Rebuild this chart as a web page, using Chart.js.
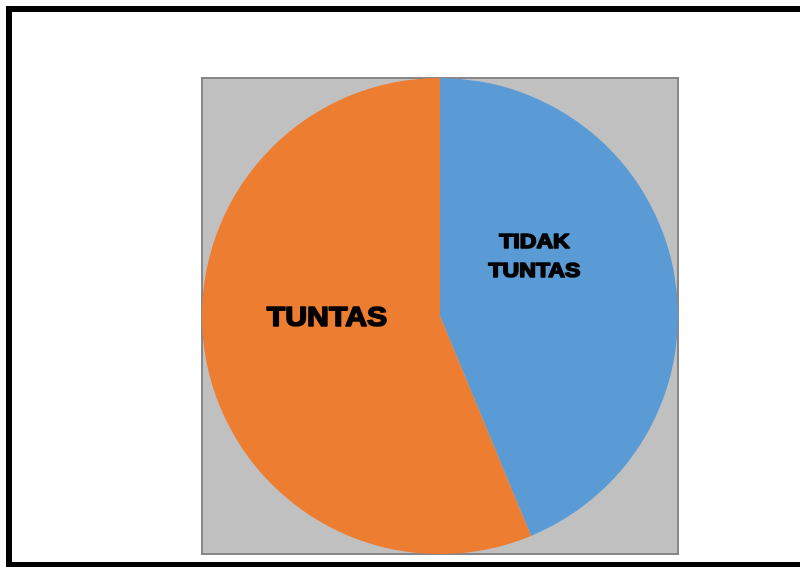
<!DOCTYPE html>
<html>
<head>
<meta charset="utf-8">
<script src="https://cdn.jsdelivr.net/npm/chart.js@4"></script>
<style>
  html, body { margin: 0; padding: 0; background: #ffffff; width: 800px; height: 567px; overflow: hidden; }
  #frame { position: absolute; left: 6px; top: 6px; width: 900px; height: 550px; border: 6px solid #000; box-sizing: content-box; }
  #plotbox { position: absolute; left: 201px; top: 77px; width: 474px; height: 474px; border: 2px solid #878787; background: #c0c0c0; }
  #wrap { position: absolute; left: 202px; top: 78px; width: 476px; height: 476px; }
</style>
</head>
<body>
<div id="frame"></div>
<div id="plotbox"></div>
<div id="wrap"><canvas id="c" width="476" height="476"></canvas></div>
<script>
const categories = ["TIDAK TUNTAS", "TUNTAS"];
const labelLines = [["TIDAK", "TUNTAS"], ["TUNTAS"]];
const values = [7, 9];
const sliceColors = ["#5b9bd5", "#ed7d31"];

// label placement: polar offset from pie centre (radius fraction, angle in degrees), font size, horizontal stretch
const labelPlacement = [
  { rFrac: 0.468, angle: -32, size: 21, lineGap: 29, stretch: 1.1 },
  { rFrac: 0.475, angle: 178.5, size: 27, lineGap: 30, stretch: 1.12 }
];

const sliceLabels = {
  id: "sliceLabels",
  afterDatasetsDraw(chart) {
    const ctx = chart.ctx;
    const meta = chart.getDatasetMeta(0);
    meta.data.forEach((arc, i) => {
      const p = labelPlacement[i];
      const a = p.angle * Math.PI / 180;
      const cx = arc.x + Math.cos(a) * arc.outerRadius * p.rFrac;
      const cy = arc.y + Math.sin(a) * arc.outerRadius * p.rFrac;
      const lines = labelLines[i];
      ctx.save();
      ctx.font = "bold " + p.size + "px 'Liberation Sans', Arial, sans-serif";
      ctx.textAlign = "center";
      ctx.textBaseline = "middle";
      ctx.fillStyle = "#000";
      ctx.strokeStyle = "#000";
      ctx.lineWidth = 1.6;
      ctx.lineJoin = "round";
      const startY = cy - (lines.length - 1) * p.lineGap / 2;
      lines.forEach((t, k) => {
        const y = startY + k * p.lineGap;
        ctx.save();
        ctx.translate(cx, y);
        ctx.scale(p.stretch, 1);
        ctx.fillText(t, 0, 0);
        ctx.strokeText(t, 0, 0);
        ctx.restore();
      });
      ctx.restore();
    });
  }
};

new Chart(document.getElementById("c"), {
  type: "pie",
  data: {
    labels: categories,
    datasets: [{
      data: values,
      backgroundColor: sliceColors,
      borderWidth: 0
    }]
  },
  options: {
    responsive: false,
    animation: false,
    layout: { padding: 0 },
    plugins: {
      legend: { display: false },
      tooltip: { enabled: false },
      title: { display: false }
    }
  },
  plugins: [sliceLabels]
});
</script>
</body>
</html>
